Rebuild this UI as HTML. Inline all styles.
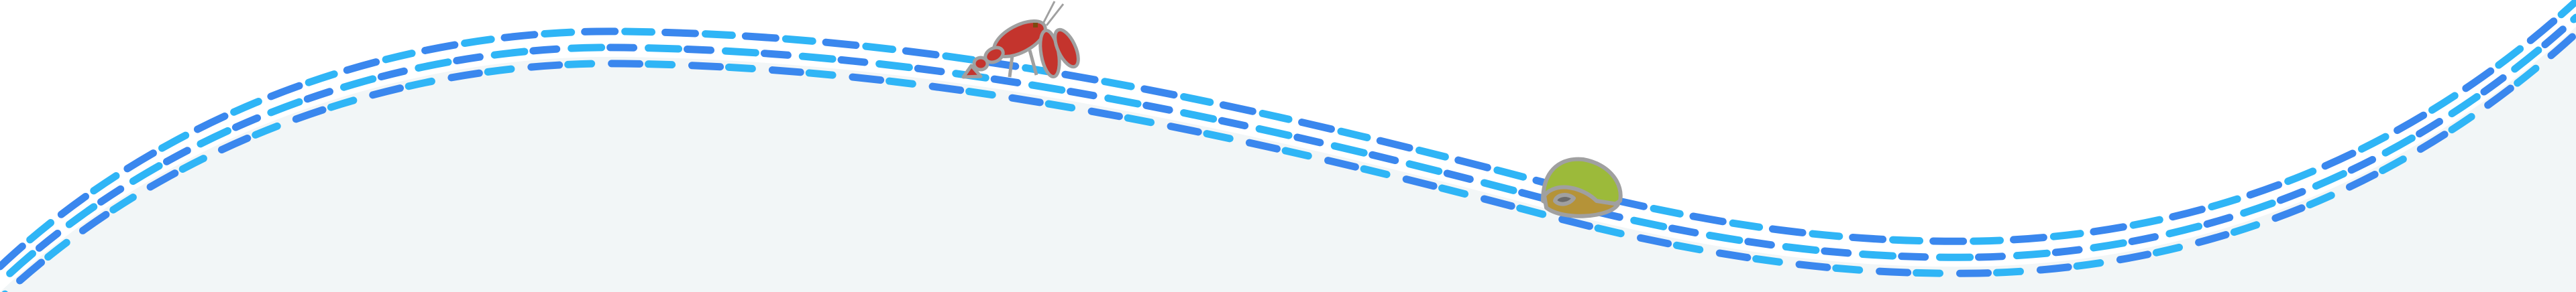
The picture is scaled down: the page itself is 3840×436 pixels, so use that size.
<!DOCTYPE html>
<html><head><style>html,body{margin:0;padding:0;background:#fff;}svg{display:block}</style></head>
<body>
<svg width="3840" height="436" viewBox="0 0 3840 436" xmlns="http://www.w3.org/2000/svg">
<defs>
<path id="c" d="M0,436 C250,200 600,80 930,85 C1300,90 1700,150 2300,310 C2600,390 2800,400 2950,398 C3300,390 3600,260 3840,40"/>
</defs>
<path d="M0,436 C250,200 600,80 930,85 C1300,90 1700,150 2300,310 C2600,390 2800,400 2950,398 C3300,390 3600,260 3840,40 L3840,436 Z" fill="#f2f6f7"/>
<g fill="none" stroke-linecap="round" stroke-width="11">
<use href="#c" transform="translate(0,-38)" stroke="#3a87ee" stroke-dasharray="45 75"/>
<use href="#c" transform="translate(0,-38)" stroke="#2fb5f6" stroke-dasharray="40 80" stroke-dashoffset="-60"/>
<use href="#c" transform="translate(0,-14)" stroke="#2fb5f6" stroke-dasharray="45 70" stroke-dashoffset="-20"/>
<use href="#c" transform="translate(0,-14)" stroke="#3a87ee" stroke-dasharray="35 80" stroke-dashoffset="-78"/>
<use href="#c" transform="translate(0,10)" stroke="#3a87ee" stroke-dasharray="42 78" stroke-dashoffset="-40"/>
<use href="#c" transform="translate(0,10)" stroke="#2fb5f6" stroke-dasharray="35 85" stroke-dashoffset="-95"/>
</g>
<!-- crayfish -->
<g stroke="#a0a0a0" stroke-width="5" stroke-linejoin="round">
<line x1="1555" y1="35" x2="1572" y2="2" stroke-width="3"/>
<line x1="1560" y1="38" x2="1585" y2="6" stroke-width="3"/>
<path d="M1510,75 L1505,115 M1535,75 L1545,112" fill="none" stroke-width="5"/>
<ellipse cx="1520" cy="58" rx="42" ry="20" transform="rotate(-28 1520 58)" fill="#c4342d"/>
<ellipse cx="1482" cy="82" rx="14" ry="10" transform="rotate(-28 1482 82)" fill="#c4342d"/>
<ellipse cx="1462" cy="95" rx="10" ry="9" fill="#c4342d"/>
<path d="M1436,115 L1448,98 L1462,114 Z" fill="#c4342d"/>
<ellipse cx="1565" cy="80" rx="13" ry="35" transform="rotate(-10 1565 80)" fill="#c4342d"/>
<ellipse cx="1590" cy="72" rx="13" ry="30" transform="rotate(-25 1590 72)" fill="#c4342d"/>
</g>
<rect x="1540" y="34" width="7" height="7" fill="#7a4a10"/>
<!-- turtle -->
<g stroke="#a0a0a0" stroke-width="6" stroke-linejoin="round">
<path d="M2300,300 C2300,250 2330,235 2360,238 C2400,245 2420,275 2415,300 C2390,318 2330,318 2300,300 Z" fill="#9cba3a"/>
<path d="M2302,292 C2320,270 2360,280 2380,300 L2412,305 C2400,325 2330,330 2305,310 Z" fill="#b59338"/>
<path d="M2318,300 C2320,290 2338,288 2346,296 C2340,305 2325,308 2318,300 Z" fill="#6b6b6b"/>
</g>
</svg>
</body></html>
